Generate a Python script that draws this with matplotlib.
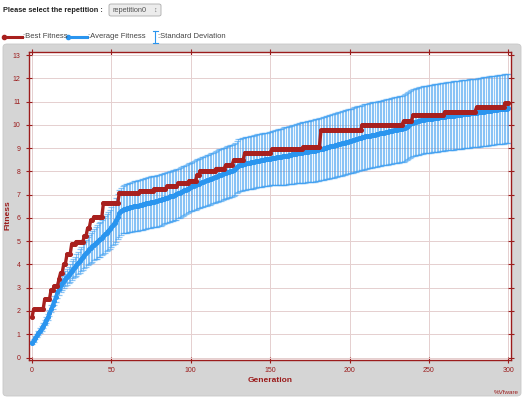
import numpy as np
import matplotlib.pyplot as plt
from matplotlib.patches import FancyBboxPatch
from matplotlib.lines import Line2D

plt.rcParams['font.family'] = ['Liberation Sans', 'DejaVu Sans']

# best fitness: value held for a number of generations
best_vals = [1.73, 2.07, 2.51, 2.90, 3.07, 3.37, 3.64, 4.02, 4.43, 4.88, 4.98, 5.22, 5.55, 5.90,
             6.05, 6.65, 7.07, 7.17, 7.24, 7.35, 7.48, 7.60, 7.84, 8.03, 8.12, 8.27, 8.49, 8.80,
             8.95, 9.05, 9.76, 10.00, 10.16, 10.42, 10.56, 10.75, 10.92]
best_runs = [1, 7, 4, 2, 3, 1, 2, 2, 3, 3, 5, 2, 2, 2,
             6, 10, 13, 9, 8, 7, 7, 5, 2, 10, 6, 5, 7, 17,
             20, 11, 26, 26, 6, 20, 20, 18, 3]

# average fitness per generation (0..300)
avg_fitness = [
    0.64, 0.74, 0.85, 0.95, 1.05, 1.15, 1.25, 1.37, 1.50, 1.62,
    1.75, 1.92, 2.10, 2.27, 2.45, 2.62, 2.80, 2.95, 3.10, 3.20,
    3.30, 3.39, 3.47, 3.55, 3.64, 3.73, 3.82, 3.90, 3.98, 4.07,
    4.15, 4.23, 4.32, 4.40, 4.48, 4.57, 4.65, 4.72, 4.78, 4.85,
    4.92, 4.97, 5.03, 5.08, 5.15, 5.22, 5.30, 5.37, 5.45, 5.52,
    5.60, 5.70, 5.80, 5.90, 6.05, 6.20, 6.28, 6.35, 6.38, 6.40,
    6.42, 6.44, 6.46, 6.48, 6.50, 6.51, 6.52, 6.53, 6.55, 6.57,
    6.59, 6.61, 6.63, 6.65, 6.66, 6.68, 6.69, 6.70, 6.72, 6.73,
    6.75, 6.77, 6.80, 6.82, 6.85, 6.87, 6.89, 6.92, 6.94, 6.96,
    6.98, 7.01, 7.05, 7.08, 7.12, 7.15, 7.19, 7.22, 7.26, 7.29,
    7.33, 7.36, 7.39, 7.42, 7.45, 7.47, 7.50, 7.53, 7.56, 7.58,
    7.61, 7.64, 7.66, 7.69, 7.72, 7.74, 7.77, 7.80, 7.83, 7.85,
    7.88, 7.91, 7.93, 7.96, 7.98, 8.01, 8.03, 8.06, 8.12, 8.19,
    8.25, 8.27, 8.29, 8.31, 8.33, 8.35, 8.36, 8.37, 8.39, 8.40,
    8.42, 8.43, 8.45, 8.46, 8.47, 8.48, 8.50, 8.51, 8.52, 8.53,
    8.55, 8.56, 8.57, 8.59, 8.60, 8.61, 8.62, 8.63, 8.64, 8.66,
    8.67, 8.68, 8.70, 8.71, 8.73, 8.74, 8.76, 8.77, 8.78, 8.80,
    8.81, 8.82, 8.83, 8.84, 8.85, 8.86, 8.87, 8.88, 8.89, 8.91,
    8.92, 8.94, 8.96, 8.98, 9.00, 9.02, 9.03, 9.05, 9.07, 9.08,
    9.10, 9.12, 9.14, 9.16, 9.18, 9.20, 9.22, 9.24, 9.26, 9.28,
    9.30, 9.32, 9.34, 9.36, 9.38, 9.40, 9.42, 9.44, 9.46, 9.48,
    9.50, 9.51, 9.53, 9.54, 9.56, 9.57, 9.58, 9.60, 9.61, 9.63,
    9.64, 9.66, 9.67, 9.69, 9.70, 9.72, 9.73, 9.75, 9.76, 9.78,
    9.79, 9.80, 9.82, 9.83, 9.85, 9.88, 9.92, 9.97, 10.02, 10.07,
    10.10, 10.12, 10.14, 10.15, 10.17, 10.19, 10.20, 10.22, 10.23, 10.24,
    10.25, 10.26, 10.27, 10.28, 10.29, 10.30, 10.31, 10.32, 10.33, 10.34,
    10.35, 10.36, 10.37, 10.38, 10.39, 10.40, 10.40, 10.41, 10.42, 10.43,
    10.44, 10.45, 10.46, 10.46, 10.47, 10.48, 10.49, 10.50, 10.50, 10.51,
    10.52, 10.53, 10.54, 10.55, 10.56, 10.57, 10.58, 10.59, 10.60, 10.61,
    10.62, 10.63, 10.64, 10.65, 10.66, 10.67, 10.67, 10.68, 10.69, 10.70,
    10.71]

# standard deviation per generation (0..300)
std_fitness = [
    0.05, 0.06, 0.07, 0.08, 0.09, 0.10, 0.11, 0.11, 0.12, 0.12,
    0.12, 0.14, 0.16, 0.18, 0.20, 0.22, 0.24, 0.26, 0.28, 0.29,
    0.30, 0.32, 0.34, 0.36, 0.38, 0.40, 0.42, 0.44, 0.46, 0.48,
    0.50, 0.52, 0.54, 0.56, 0.58, 0.60, 0.62, 0.64, 0.66, 0.68,
    0.70, 0.72, 0.73, 0.75, 0.76, 0.78, 0.79, 0.81, 0.82, 0.84,
    0.85, 0.88, 0.91, 0.94, 0.97, 1.00, 1.01, 1.02, 1.03, 1.04,
    1.05, 1.06, 1.06, 1.07, 1.07, 1.08, 1.08, 1.09, 1.09, 1.10,
    1.10, 1.10, 1.10, 1.10, 1.10, 1.10, 1.10, 1.10, 1.10, 1.10,
    1.10, 1.10, 1.09, 1.09, 1.09, 1.09, 1.08, 1.08, 1.08, 1.08,
    1.08, 1.08, 1.07, 1.07, 1.07, 1.07, 1.06, 1.06, 1.06, 1.05,
    1.05, 1.05, 1.05, 1.06, 1.06, 1.06, 1.07, 1.07, 1.07, 1.08,
    1.08, 1.08, 1.09, 1.09, 1.09, 1.10, 1.10, 1.10, 1.11, 1.11,
    1.11, 1.11, 1.12, 1.12, 1.12, 1.12, 1.12, 1.12, 1.12, 1.12,
    1.12, 1.12, 1.13, 1.13, 1.13, 1.13, 1.13, 1.14, 1.14, 1.14,
    1.14, 1.14, 1.14, 1.15, 1.15, 1.15, 1.15, 1.15, 1.15, 1.15,
    1.15, 1.16, 1.17, 1.18, 1.19, 1.20, 1.21, 1.21, 1.22, 1.23,
    1.24, 1.24, 1.25, 1.26, 1.26, 1.27, 1.28, 1.28, 1.29, 1.29,
    1.30, 1.30, 1.31, 1.31, 1.32, 1.32, 1.33, 1.33, 1.34, 1.34,
    1.34, 1.35, 1.35, 1.35, 1.35, 1.36, 1.36, 1.36, 1.36, 1.37,
    1.37, 1.37, 1.37, 1.37, 1.38, 1.38, 1.38, 1.38, 1.38, 1.38,
    1.38, 1.38, 1.39, 1.39, 1.39, 1.39, 1.39, 1.39, 1.40, 1.40,
    1.40, 1.40, 1.40, 1.40, 1.40, 1.40, 1.40, 1.40, 1.40, 1.40,
    1.40, 1.40, 1.41, 1.41, 1.41, 1.41, 1.41, 1.42, 1.42, 1.42,
    1.42, 1.42, 1.43, 1.43, 1.43, 1.43, 1.43, 1.44, 1.44, 1.44,
    1.44, 1.44, 1.44, 1.45, 1.45, 1.45, 1.45, 1.45, 1.45, 1.45,
    1.45, 1.45, 1.45, 1.46, 1.46, 1.46, 1.46, 1.46, 1.46, 1.46,
    1.46, 1.46, 1.46, 1.46, 1.47, 1.47, 1.47, 1.47, 1.47, 1.47,
    1.47, 1.47, 1.47, 1.47, 1.47, 1.47, 1.47, 1.47, 1.47, 1.47,
    1.47, 1.47, 1.48, 1.48, 1.48, 1.48, 1.48, 1.48, 1.48, 1.48,
    1.48, 1.48, 1.48, 1.48, 1.49, 1.49, 1.49, 1.49, 1.49, 1.49,
    1.49]

x_ticks = [0, 50, 100, 150, 200, 250, 300]
y_ticks = list(range(0, 14))

RED = '#a8201e'
BLUE = '#2a95ef'
AXIS = '#9b1c1c'

best_fitness = np.repeat(best_vals, best_runs)
generations = np.arange(len(avg_fitness))

fig = plt.figure(figsize=(5.25, 3.99), dpi=100)
W, H = 525.0, 399.0

# gray panel behind the chart
panel = FancyBboxPatch((3 / W, 3 / H), 518 / W, 352 / H,
                       boxstyle='round,pad=0,rounding_size=0.008',
                       transform=fig.transFigure, facecolor='#d5d5d5',
                       edgecolor='#c8c8c8', lw=0.6, zorder=-2)
fig.patches.append(panel)

# header: selector
fig.text(3 / W, 1 - 10 / H, 'Please select the repetition :', fontsize=5.3,
         fontweight='bold', va='center', ha='left', color='#222222')
sel = FancyBboxPatch((109 / W, 1 - 16 / H), 52 / W, 12 / H,
                     boxstyle='round,pad=0,rounding_size=0.004',
                     transform=fig.transFigure, facecolor='#ececec',
                     edgecolor='#aaaaaa', lw=0.6, zorder=-1)
fig.patches.append(sel)
fig.text(112 / W, 1 - 10 / H, 'repetition0', fontsize=5.3, va='center',
         ha='left', color='#555555')
fig.text(155 / W, 1 - 10 / H, '\u2195', fontsize=5, va='center',
         ha='center', color='#777777')

# header: legend
ly = 1 - 37 / H
fig.lines.append(Line2D([4 / W, 22 / W], [ly, ly], transform=fig.transFigure,
                        color=RED, lw=2.2, marker='o', ms=3, markevery=[0]))
fig.text(23 / W, ly, ':Best Fitness', fontsize=5.5, va='center', color='#444444')
fig.lines.append(Line2D([68 / W, 87 / W], [ly, ly], transform=fig.transFigure,
                        color=BLUE, lw=2.2, marker='o', ms=3, markevery=[0]))
fig.text(88 / W, ly, ':Average Fitness', fontsize=5.5, va='center', color='#444444')
fig.lines.append(Line2D([155 / W, 155 / W], [1 - 31 / H, 1 - 43 / H],
                        transform=fig.transFigure, color=BLUE, lw=0.8))
for yy in (31, 43):
    fig.lines.append(Line2D([152.5 / W, 157.5 / W], [1 - yy / H, 1 - yy / H],
                            transform=fig.transFigure, color=BLUE, lw=0.8))
fig.text(158 / W, ly, ':Standard Deviation', fontsize=5.5, va='center', color='#444444')

# chart
ax = fig.add_axes([29 / W, 1 - 360 / H, 482 / W, 308 / H])
ax.set_facecolor('white')

ax.errorbar(generations, avg_fitness, yerr=std_fitness, fmt='none',
            ecolor='#3f9ff1', elinewidth=0.8, capsize=2.0, capthick=0.9,
            alpha=0.6, zorder=2)
ax.plot(generations, avg_fitness, color=BLUE, lw=2.4, marker='o', ms=2.6, zorder=3)
ax.plot(generations, best_fitness, color=RED, lw=2.4, marker='o', ms=2.6, zorder=4)

ax.set_xlim(-1.9, 301.7)
ax.set_ylim(-0.107, 13.13)
ax.set_xticks(x_ticks)
ax.set_yticks(y_ticks)
ax.grid(True, color='#e5cfcf', lw=0.7)
ax.set_axisbelow(True)
for s in ax.spines.values():
    s.set_color(AXIS)
    s.set_linewidth(1.0)
ax.tick_params(axis='both', which='both', direction='inout', length=4, width=0.8,
               color=AXIS, labelcolor=AXIS, labelsize=5, top=True, right=True)
ax.tick_params(axis='x', pad=3)
ax.tick_params(axis='y', pad=4)

ax.set_xlabel('Generation', fontsize=6, fontweight='bold', color=AXIS, labelpad=2)
fig.text(8 / W, 1 - 215 / H, 'Fitness', fontsize=6, fontweight='bold', color=AXIS,
         rotation=90, ha='center', va='center')

fig.text(519 / W, 1 - 395 / H, '%Vfware', fontsize=4.5, ha='right', va='bottom',
         color=AXIS)

fig.savefig('out.png', dpi=100)
